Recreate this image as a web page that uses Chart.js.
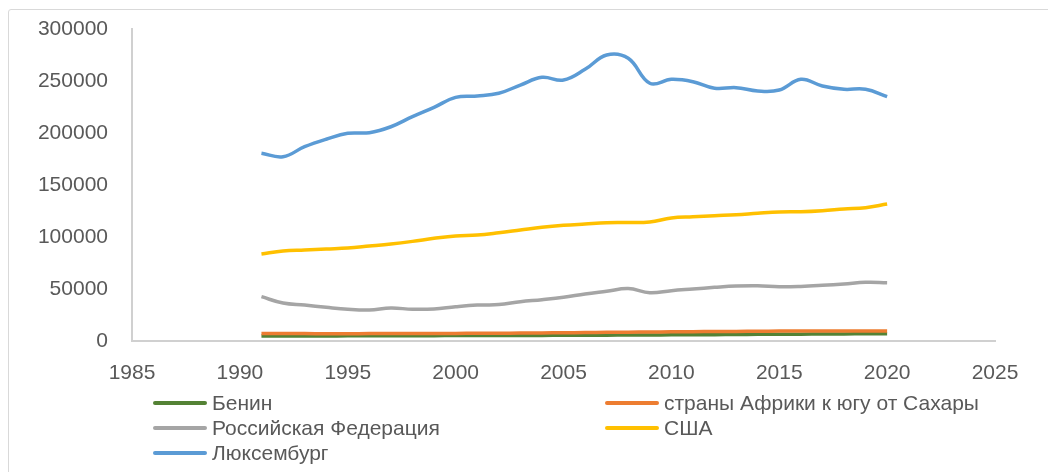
<!DOCTYPE html>
<html>
<head>
<meta charset="utf-8">
<script src="https://cdn.jsdelivr.net/npm/chart.js@4"></script>
<style>
  body{margin:0;background:#fff;font-family:"Liberation Sans",Arial,sans-serif;}
  #wrap{position:relative;width:1048px;height:472px;overflow:hidden;}
  #frame{position:absolute;left:8px;top:9px;width:1100px;height:500px;border:1px solid #d9d9d9;border-radius:3px;}
  #box{position:absolute;left:0;top:0;width:1048px;height:472px;}
  #legend{position:absolute;left:0;top:0;width:1048px;height:472px;pointer-events:none;}
  .item{position:absolute;height:25px;display:flex;align-items:center;font-size:21px;color:#595959;white-space:nowrap;}
  .swatch{width:54px;height:4px;margin-right:5px;border-radius:2px;}
</style>
</head>
<body>
<div id="wrap">
  <div id="frame"></div>
  <div id="box"><canvas id="gdpChart"></canvas></div>
  <div id="legend"></div>
</div>
<script>
const years=[1991,1992,1993,1994,1995,1996,1997,1998,1999,2000,2001,2002,2003,2004,2005,
             2006,2007,2008,2009,2010,2011,2012,2013,2014,2015,2016,2017,2018,2019,2020];
const benin=[4800,4850,4850,4900,4950,5000,5050,5100,5150,5200,5250,5300,5350,5400,5450,
             5500,5600,5700,5800,5900,6000,6100,6250,6400,6550,6600,6700,6800,6900,6900];
const subSaharan=[7200,7150,7100,7050,7050,7100,7150,7200,7250,7300,7400,7500,7650,7800,7950,
                  8100,8300,8500,8600,8800,8950,9100,9250,9400,9500,9500,9550,9600,9650,9500];
const russia=[42600,36500,34600,32400,30500,29800,31700,30500,30800,33000,34600,35000,37800,39700,42000,
              45200,47800,50400,46400,48400,50000,51600,52900,53200,52200,52500,53500,54800,56400,56100];
const usa=[83700,86500,87500,88500,89400,91300,93300,95800,98700,101000,101900,104100,106700,109300,111200,
           112500,113700,113900,114500,118300,119500,120500,121400,122800,124000,124300,125300,126900,128200,131700];
const luxembourg=[180500,177200,186800,194000,199700,200300,206000,215700,224700,234300,235600,238200,246100,253500,250900,
                  261200,275000,271800,247800,251600,249300,243000,243600,240400,241300,251600,245200,242000,242000,234900];

const seriesNames=['Бенин','страны Африки к югу от Сахары','Российская Федерация','США','Люксембург'];
const seriesData=[benin,subSaharan,russia,usa,luxembourg];
const seriesColors=['#548235','#ED7D31','#A5A5A5','#FFC000','#5B9BD5'];

const loadChart=()=>{
  const ctx=document.getElementById('gdpChart');
  const datasets=seriesNames.map((name,i)=>({
    label:name,
    data:seriesData[i].map((v,j)=>({x:years[j],y:v})),
    borderColor:seriesColors[i],
    backgroundColor:seriesColors[i],
    borderWidth:3.5,
    pointRadius:0,
    tension:0.4,
    fill:false,
    order:seriesNames.length-i
  }));
  const tickFont={family:'"Liberation Sans", Arial, sans-serif',size:21};
  new Chart(ctx,{
    type:'line',
    data:{datasets:datasets},
    options:{
      responsive:true,
      maintainAspectRatio:false,
      animation:false,
      layout:{padding:{left:0,right:53,top:29,bottom:81}},
      plugins:{legend:{display:false},tooltip:{enabled:false}},
      scales:{
        x:{
          type:'linear',min:1985,max:2025,
          ticks:{stepSize:5,color:'#595959',font:tickFont,padding:20,maxRotation:0,
                 callback:v=>String(v)},
          grid:{display:false,drawTicks:false},
          border:{display:true,color:'#d0d0d0',width:2},
          afterFit:s=>{s.height=50;}
        },
        y:{
          min:0,max:300000,
          ticks:{stepSize:50000,color:'#595959',font:tickFont,padding:24,
                 callback:v=>String(v)},
          grid:{display:false,drawTicks:false},
          border:{display:true,color:'#d0d0d0',width:2},
          afterFit:s=>{s.width=132;s.paddingTop=0;s.paddingBottom=0;}
        }
      }
    }
  });

  // legend in two columns, like the original
  const legend=document.getElementById('legend');
  const cols=[153,605];
  const rows=[390,415,440];
  seriesNames.forEach((name,i)=>{
    const item=document.createElement('div');
    item.className='item';
    item.style.left=cols[i%2]+'px';
    item.style.top=rows[Math.floor(i/2)]+'px';
    item.innerHTML='<div class="swatch" style="background:'+seriesColors[i]+'"></div><span></span>';
    item.querySelector('span').textContent=name;
    legend.appendChild(item);
  });
};
loadChart();
</script>
</body>
</html>
